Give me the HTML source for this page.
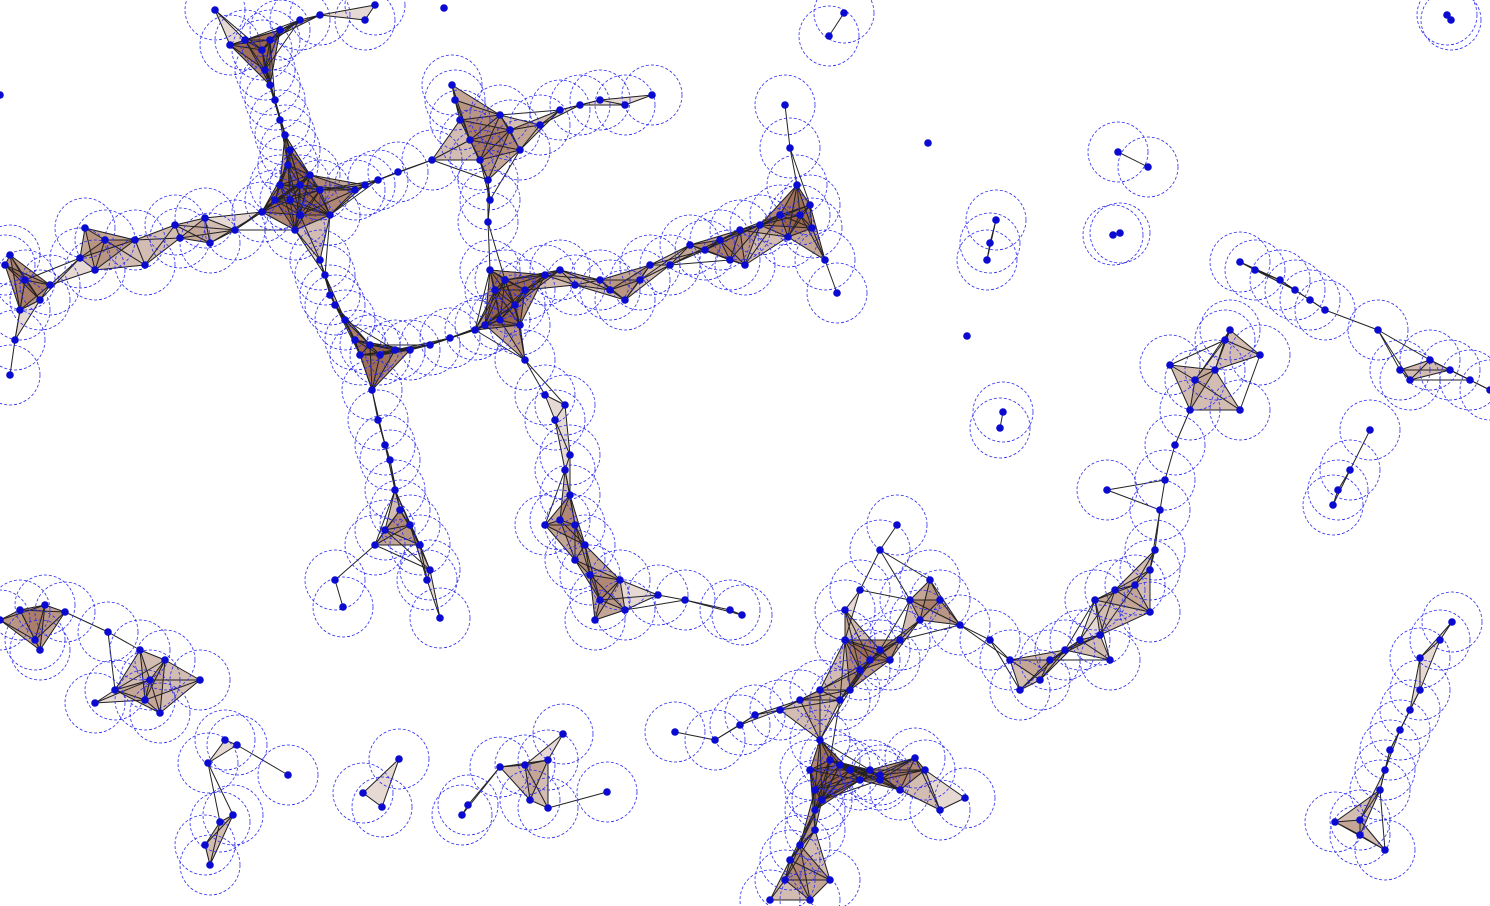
<!DOCTYPE html>
<html><head><meta charset="utf-8"><style>
html,body{margin:0;padding:0;background:#fff;width:1490px;height:906px;overflow:hidden}
svg{display:block}
</style></head><body>
<svg id="chart" width="1490" height="906" viewBox="0 0 1490 906" xmlns="http://www.w3.org/2000/svg">
<g id="tri"></g>
<g id="edg"></g>
<g id="cir"></g>
<g id="pts"></g>
</svg>
<script>
const pointX=[215,230,245,262,270,280,300,320,365,375,265,270,275,280,285,290,288,280,275,290,300,310,320,295,300,330,355,365,378,398,432,
262,235,205,175,180,210,135,145,105,85,80,95,50,40,25,10,5,20,15,10,
320,325,330,335,345,355,360,370,380,395,410,430,450,475,485,500,515,520,490,495,505,525,545,560,575,600,610,625,640,650,670,690,705,720,740,745,730,760,780,800,810,812,788,825,837,790,785,797,
452,455,460,470,480,488,490,488,520,510,540,560,580,600,625,652,500,
525,545,565,555,570,565,570,560,545,575,585,575,590,600,595,620,625,658,685,730,742,
372,378,385,390,395,400,385,375,410,420,430,427,440,335,343,
0,20,45,65,40,35,108,140,150,165,200,115,95,160,145,225,237,208,233,220,205,210,288,
399,363,382,500,525,548,563,530,548,468,462,607,
675,715,740,755,780,800,820,840,850,860,870,880,900,920,940,930,897,880,860,845,845,890,910,960,990,1010,1020,1040,1050,1065,1080,1100,1110,1095,1115,1135,1150,1150,1155,1160,1165,1107,1175,1190,1195,1215,1225,1230,1170,1240,1260,1240,1255,1280,1295,1310,1325,1378,1400,1410,1430,1450,1470,1490,1370,1350,1338,1333,
820,830,840,850,860,870,880,810,815,822,815,880,900,925,940,965,915,815,800,790,785,770,810,830,
1452,1440,1420,1420,1410,1400,1390,1385,1380,1360,1335,1385,1360,
444,829,844,928,1118,1148,996,990,987,1113,1120,967,1003,1000,1447,1451,0];
const pointY=[10,45,40,50,40,30,20,15,20,5,70,85,100,120,135,150,165,185,200,200,185,175,190,230,215,215,190,185,180,172,160,
212,230,218,225,238,243,240,265,240,228,258,270,285,300,280,255,265,310,340,375,
260,275,295,305,320,340,355,345,355,350,350,345,338,330,325,320,305,325,270,290,280,290,275,270,285,280,290,300,280,265,265,245,250,240,230,265,260,225,215,215,205,228,237,260,293,148,105,185,
85,100,120,140,160,180,200,222,150,130,125,110,105,100,105,95,115,
360,395,405,420,455,470,495,520,525,525,545,560,575,600,620,580,610,595,600,610,615,
390,420,445,460,490,510,530,545,525,545,570,580,618,580,607,
620,610,605,612,650,640,632,650,680,660,680,690,703,713,700,740,745,763,815,822,845,865,775,
759,793,807,767,765,760,734,800,808,805,815,792,
732,740,725,715,710,700,690,700,690,670,660,650,640,620,600,580,525,550,590,610,640,660,600,625,640,660,690,680,660,650,640,635,660,600,590,585,612,570,550,510,480,490,445,410,380,370,340,330,365,410,355,262,270,280,290,300,310,330,370,380,360,370,380,390,430,470,490,505,
740,760,765,770,780,770,775,770,790,800,810,780,790,770,810,798,758,830,845,860,880,900,900,880,
622,640,658,690,710,730,750,770,790,820,822,850,835,
8,36,13,143,152,167,220,243,260,235,233,336,412,428,15,20,95];

const EDGE_MAX=62, TRI_MAX=58, RADIUS=30;
const NS="http://www.w3.org/2000/svg";
const tri=document.getElementById('tri'), edg=document.getElementById('edg'), cir=document.getElementById('cir'), pts=document.getElementById('pts');
const n=Math.min(pointX.length,pointY.length);
function d(i,j){return Math.hypot(pointX[i]-pointX[j],pointY[i]-pointY[j]);}
const nb=[];
const deg=new Array(n).fill(0);
for(let i=0;i<n;i++){nb.push([]);for(let j=i+1;j<n;j++){if(d(i,j)<EDGE_MAX){nb[i].push(j);deg[i]++;deg[j]++;}}}
for(let i=0;i<n;i++){
  for(const j of nb[i]){
    if(d(i,j)>=TRI_MAX)continue;
    for(const k of nb[j]){
      if(k<=j)continue;
      if(d(j,k)<TRI_MAX&&d(i,k)<TRI_MAX){
        const p=document.createElementNS(NS,'polygon');
        p.setAttribute('points',pointX[i]+','+pointY[i]+' '+pointX[j]+','+pointY[j]+' '+pointX[k]+','+pointY[k]);
        p.setAttribute('fill','rgba(150,95,70,0.24)');
        p.setAttribute('stroke','rgba(60,40,30,0.5)');
        p.setAttribute('stroke-width','0.6');
        
        
        tri.appendChild(p);
      }
    }
  }
  for(const j of nb[i]){
    const l=document.createElementNS(NS,'line');
    l.setAttribute('x1',pointX[i]);l.setAttribute('y1',pointY[i]);
    l.setAttribute('x2',pointX[j]);l.setAttribute('y2',pointY[j]);
    l.setAttribute('stroke','#222');l.setAttribute('stroke-width','1');
    
    
    edg.appendChild(l);
  }
}
for(let i=0;i<n;i++){
  if(deg[i]>0){
    const c=document.createElementNS(NS,'circle');
    c.setAttribute('cx',pointX[i]);c.setAttribute('cy',pointY[i]);c.setAttribute('r',RADIUS);
    c.setAttribute('fill','none');c.setAttribute('stroke','#2a2af0');c.setAttribute('stroke-width','0.8');c.setAttribute('stroke-dasharray','3,2');
    
    
    cir.appendChild(c);
  }
  const p=document.createElementNS(NS,'circle');
  p.setAttribute('cx',pointX[i]);p.setAttribute('cy',pointY[i]);p.setAttribute('r',3.8);
  p.setAttribute('fill','#0a0ad0');
  
  
  pts.appendChild(p);
}
</script>
</body></html>
